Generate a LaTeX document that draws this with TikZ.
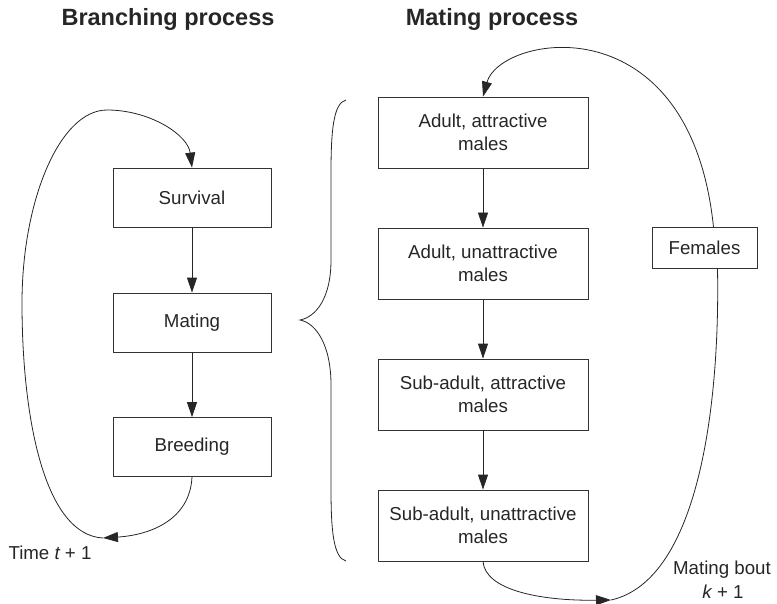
\documentclass[tikz,border=0pt]{standalone}
\usepackage{fontspec}
\setmainfont{Liberation Sans}
\usetikzlibrary{arrows.meta}
\begin{document}
\begin{tikzpicture}[x=1bp,y=-1bp,
  box/.style={draw=black!80, line width=0.8bp, align=center, inner sep=0pt,
    font=\fontsize{18.7bp}{23bp}\selectfont, text=black!85},
  lbox/.style={box, minimum width=158bp, minimum height=59bp},
  rbox/.style={box, minimum width=210bp, minimum height=71bp},
  fbox/.style={box, minimum width=105bp, minimum height=41bp},
  arr/.style={-{Triangle[length=15bp,width=10bp]}, line width=0.8bp, draw=black!85},
  curve/.style={line width=0.8bp, draw=black!85},
  title/.style={font=\fontsize{23.5bp}{28bp}\selectfont\bfseries, text=black!85},
  lab/.style={font=\fontsize{18.7bp}{23bp}\selectfont, text=black!85, inner sep=0pt}]
\useasboundingbox (0,0) rectangle (777,604);

\node[title] (t1) at (168,19) {Branching process};
\node[title] (t2) at (492,19) {Mating process};

\node[lbox] (surv) at (192,197.5) {Survival};
\node[lbox] (mat) at (192,322.5) {Mating};
\node[lbox] (bre) at (192,447) {Breeding};

\node[rbox] (aa) at (483,132.5) {Adult, attractive\\males};
\node[rbox] (au) at (483,263.5) {Adult, unattractive\\males};
\node[rbox] (sa) at (483,394.5) {Sub-adult, attractive\\males};
\node[rbox] (su) at (483,525.5) {Sub-adult, unattractive\\males};
\node[fbox] (fem) at (704.5,248) {Females};

\node[lab, anchor=base] (time) at (50,559) {Time {\itshape t} + 1};
\node[lab, anchor=base] (mb1) at (722,574) {Mating bout};
\node[lab, anchor=base] (mb2) at (723,598) {{\itshape k} + 1};

\coordinate (tl) at (103,538);
\coordinate (mb) at (611,600);

% brace
\draw[curve] (346,100) .. controls (333,103) and (331,133) .. (331,173) -- (331,260)
  .. controls (331,298) and (316,317) .. (300,320)
  .. controls (316,323) and (331,345) .. (331,385) -- (331,488)
  .. controls (331,528) and (333,558) .. (346,561);

\draw[arr] (surv) -- (mat);
\draw[arr] (mat) -- (bre);
\draw[arr] (aa) -- (au);
\draw[arr] (au) -- (sa);
\draw[arr] (sa) -- (su);

\draw[arr] (bre.south) .. controls (190,520) and (150,535) .. (tl);
\draw[arr] (tl) .. controls (45,535) and (22,420) .. (22,303)
  .. controls (22,200) and (60,110) .. (107,110)
  .. controls (150,110) and (188,135) .. (surv.north);

\draw[arr] (su.south) .. controls (485,590) and (540,601) .. (mb);
\draw[curve] (mb) .. controls (700,580) and (720,400) .. ([xshift=13bp]fem.south);
\draw[arr] ([xshift=9bp]fem.north) .. controls (690,0) and (500,35) .. (aa.north);
\end{tikzpicture}
\end{document}
